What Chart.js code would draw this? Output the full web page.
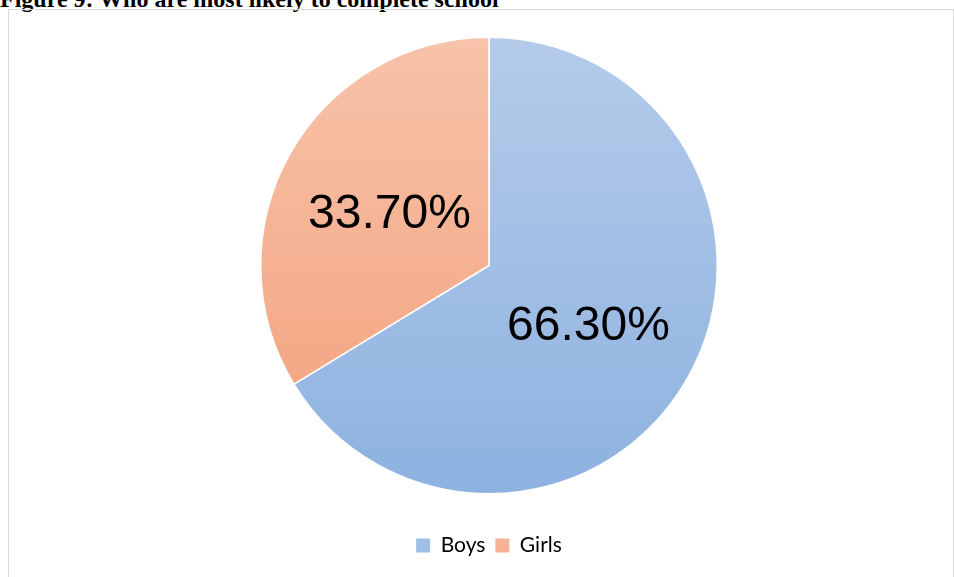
<!DOCTYPE html>
<html>
<head>
<meta charset="utf-8">
<script src="https://cdn.jsdelivr.net/npm/chart.js@4/dist/chart.umd.min.js"></script>
<style>
    html, body { margin: 0; padding: 0; background: #fff; }
    body { width: 954px; height: 577px; position: relative; overflow: hidden; }
    #title {
        position: absolute; left: 0; top: -13px;
        font: bold 24px "Liberation Serif", "Times New Roman", serif;
        line-height: 24px; color: #000; white-space: nowrap;
    }
    #frame {
        position: absolute; left: 8px; top: 9px; width: 944px; height: 600px;
        border: 1px solid #d9d9d9;
    }
    #pieChart { position: absolute; left: 0; top: 0; }
</style>
</head>
<body>
<div id="title">Figure 9: Who are most likely to complete school</div>
<div id="frame"></div>
<canvas id="pieChart" width="954" height="577"></canvas>
<script>
document.addEventListener("DOMContentLoaded", () => {
    // data
    const categories = ["Boys", "Girls"];
    const shares = [66.3, 33.7];

    // gradient stops (top -> bottom of the pie)
    const topColors = ["#b5cbea", "#f7c3aa"];
    const bottomColors = ["#8db2e0", "#f39f7a"];
    const legendColors = ["#a0bfe5", "#f5b394"];

    function sliceFill(ctx) {
        const i = ctx.dataIndex;
        const area = ctx.chart.chartArea;
        if (!area) return legendColors[i];
        const r = Math.min(area.right - area.left, area.bottom - area.top) / 2;
        const cy = (area.top + area.bottom) / 2;
        const g = ctx.chart.ctx.createLinearGradient(0, cy - r, 0, cy + r);
        g.addColorStop(0, topColors[i]);
        g.addColorStop(1, bottomColors[i]);
        return g;
    }

    // **slice labels at half radius**
    const sliceLabels = {
        id: "sliceLabels",
        afterDatasetsDraw(chart) {
            const c = chart.ctx;
            const meta = chart.getDatasetMeta(0);
            c.save();
            c.font = '48px "Liberation Sans", Arial, sans-serif';
            c.fillStyle = "#000";
            c.textAlign = "center";
            c.textBaseline = "middle";
            meta.data.forEach((arc, i) => {
                const p = arc.getProps(["x", "y", "startAngle", "endAngle", "outerRadius"], true);
                const mid = (p.startAngle + p.endAngle) / 2;
                const d = p.outerRadius * 0.5;
                // middle baseline sits a little high for digits
                c.fillText(shares[i].toFixed(2) + "%", p.x + Math.cos(mid) * d, p.y + Math.sin(mid) * d + 5);
            });
            c.restore();
        }
    };

    new Chart(document.getElementById("pieChart"), {
        type: "pie",
        data: {
            labels: categories,
            datasets: [{
                data: shares,
                backgroundColor: sliceFill,
                borderColor: "#ffffff",
                borderWidth: 1.5
            }]
        },
        options: {
            responsive: false,
            animation: false,
            layout: { padding: { top: 6, left: 260, right: 236, bottom: 11 } },
            plugins: {
                tooltip: { enabled: false },
                legend: {
                    position: "bottom",
                    labels: {
                        boxWidth: 14,
                        boxHeight: 14,
                        padding: 10,
                        color: "#757575",
                        font: { family: "Lato, 'Open Sans', sans-serif", size: 21 },
                        generateLabels: () => categories.map((name, i) => ({
                            text: name,
                            fillStyle: legendColors[i],
                            strokeStyle: legendColors[i],
                            lineWidth: 0,
                            index: i
                        }))
                    }
                }
            }
        },
        plugins: [sliceLabels]
    });
});
</script>
</body>
</html>
